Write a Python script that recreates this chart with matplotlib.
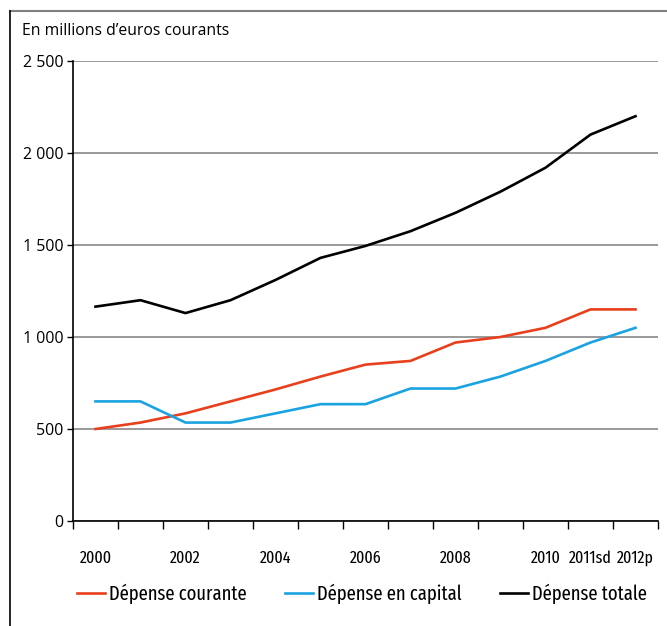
import matplotlib
matplotlib.use('Agg')
import matplotlib.pyplot as plt
from matplotlib.lines import Line2D
from matplotlib.ticker import FuncFormatter, FixedLocator

# values, millions of euros
years = ['2000', '2001', '2002', '2003', '2004', '2005', '2006',
         '2007', '2008', '2009', '2010', '2011sd', '2012p']
courante = [500, 535, 585, 650, 715, 785, 850, 870, 970, 1000, 1050, 1150, 1150]
capital = [650, 650, 535, 535, 585, 635, 635, 720, 720, 785, 870, 970, 1050]
totale = [1165, 1200, 1130, 1200, 1310, 1430, 1495, 1575, 1675, 1790, 1920, 2100, 2200]

# only some years get a label under the axis
shown = ['2000', '2002', '2004', '2006', '2008', '2010', '2011sd', '2012p']

regular = ['Open Sans', 'Liberation Sans', 'DejaVu Sans']
condensed = ['Fira Sans Extra Condensed', 'Fira Sans Condensed', 'Liberation Sans', 'DejaVu Sans']

W, H = 667, 626
fig = plt.figure(figsize=(W / 100, H / 100), dpi=100)
ax = fig.add_axes([73 / W, 1 - 521 / H, (658 - 73) / W, (521 - 61) / H])

x = range(len(years))
ax.plot(x, courante, color='#e8401c', lw=1.9, label='Dépense courante')
ax.plot(x, capital, color='#1aa3e0', lw=1.9, label='Dépense en capital')
ax.plot(x, totale, color='black', lw=1.9, label='Dépense totale')

ax.set_xlim(-0.5, len(years) - 0.5)
ax.set_ylim(0, 2500)
ax.set_yticks(range(0, 2501, 500))
ax.yaxis.set_major_formatter(FuncFormatter(lambda v, p: '{:,}'.format(int(v)).replace(',', ' ')))
ax.grid(axis='y', color='#888888', lw=1.2)
ax.set_axisbelow(True)

# labels at the categories, tick marks between them
ax.set_xticks([years.index(y) for y in shown])
ax.set_xticklabels(shown, fontsize=12.5, family=condensed, va='baseline')
ax.xaxis.set_minor_locator(FixedLocator([i - 0.5 for i in range(len(years) + 1)]))
ax.tick_params(axis='x', which='major', length=0, pad=30)
ax.tick_params(axis='x', which='minor', direction='out', length=6, width=1, color='black')
ax.tick_params(axis='y', direction='out', length=4, width=1, pad=3, labelsize=11.5)
for lab in ax.get_yticklabels():
    lab.set_family(regular)

for s in ['top', 'right']:
    ax.spines[s].set_visible(False)
ax.spines['left'].set_linewidth(1.2)
ax.spines['bottom'].set_linewidth(1.2)

fig.text(22 / W, 1 - 31 / H, 'En millions d\u2019euros courants', ha='left', va='center',
         fontsize=11.3, family=regular)

fig.legend(loc='center left', bbox_to_anchor=(77 / W, 1 - 594 / H), ncol=3, frameon=False,
           prop={'family': condensed, 'size': 14.5},
           handlelength=1.4, handletextpad=0.2, columnspacing=1.9, borderpad=0,
           borderaxespad=0)

# outer frame lines (top and left only)
fig.add_artist(Line2D([10 / W, 1], [1 - 11 / H, 1 - 11 / H], color='#808080', lw=1.5))
fig.add_artist(Line2D([10 / W, 10 / W], [0, 1 - 11 / H], color='black', lw=1.2))

fig.savefig('out.png', dpi=100)
